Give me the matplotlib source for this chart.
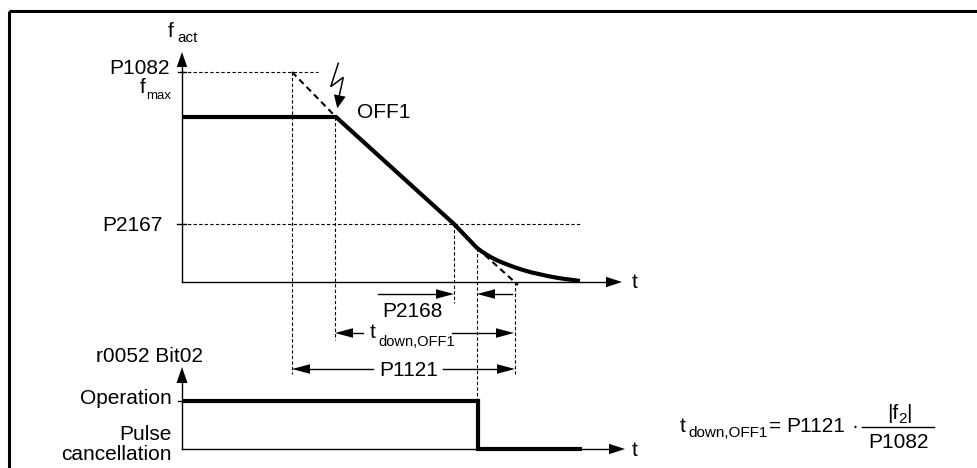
import matplotlib
matplotlib.use("Agg")
import matplotlib.pyplot as plt
import numpy as np

plt.rcParams['font.family'] = ['Liberation Sans', 'DejaVu Sans']

# ---------------- data (diagram coordinates) ----------------
# upper diagram: time axis origin / levels
t0 = 182                       # origin of time axes
f_zero = 282                   # f = 0 level
f_p1082 = 72                   # P1082 (f_max setpoint) level
f_set = 117                    # actual frequency before OFF1
f_p2167 = 224                  # P2167 threshold
t_axis_end = 622
# actual frequency trace (ramp + rounding)
f_trace_t = [182, 336, 454, 477, 483, 490, 498, 506.7, 515, 523, 531, 540, 548, 556.7, 565, 573, 580]
f_trace_f = [117, 117, 224, 248, 252.3, 256.7, 260.8, 264.3, 267.4, 270, 272.3, 274.3, 276.1, 277.7, 279, 280, 281]
# theoretical ramp (dashed)
ramp_t = [292, 336]
ramp_f = [72, 117]
ramp_ext_t = [477, 518]
ramp_ext_f = [248, 285]
# characteristic times
t_p1121_start = 292
t_off1 = 335
t_p2167 = 454
t_pulse = 477
t_ramp_end = 515
# lower diagram
b_axis = 449
b_oper = 401
b_axis_end = 625
b_trace_t = [182, 478, 478, 582]
b_trace_y = [401, 401, 449, 449]

# ---------------- figure ----------------
W, H = 977, 468
fig = plt.figure(figsize=(W / 100, H / 100), dpi=100)
ax = fig.add_axes([0, 0, 1, 1])
ax.set_xlim(0, W)
ax.set_ylim(H, 0)
ax.axis('off')

K = 'black'
dot = dict(color=K, lw=0.8, ls=(0, (3, 2)))


def head(tip, direction, length=16, half=5.5):
    tx, ty = tip
    d = np.array(direction, float)
    d /= np.hypot(*d)
    n = np.array([-d[1], d[0]])
    base = np.array([tx, ty]) - d * length
    p1 = base + n * half
    p2 = base - n * half
    ax.fill([tx, p1[0], p2[0]], [ty, p1[1], p2[1]], color=K, lw=0)


def txt(x, y, s, size=15, ha='left', va='baseline'):
    ax.text(x, y, s, fontsize=size, ha=ha, va=va, color=K)


# frame
ax.plot([8.7, W], [11.3, 11.3], color=K, lw=2.2, solid_capstyle='butt')
ax.plot([8.7, 8.7], [11.3, H], color=K, lw=2.2, solid_capstyle='butt')

# ---------- upper diagram ----------
ax.plot([t0, t0], [f_zero, 64], color=K, lw=1.0)
head((t0, 52), (0, -1), 15, 5.2)
ax.plot([t0, t_axis_end - 14], [f_zero, f_zero], color=K, lw=1.0)
head((t_axis_end, f_zero), (1, 0), 16, 5.2)
txt(632, 288, 't')

# f_act label
txt(168, 37, 'f')
txt(177.5, 41.5, 'act', 11)
# P1082 / fmax
txt(170, 74, 'P1082', ha='right')
txt(140, 93, 'f')
txt(146, 99, 'max', 9.5)
ax.plot([178, 186], [f_p1082, f_p1082], color=K, lw=1.0)
ax.plot([t0, 318], [f_p1082, f_p1082], **dot)
# P2167
txt(163, 231, 'P2167', ha='right')
ax.plot([177, 186], [f_p2167, f_p2167], color=K, lw=1.0)
ax.plot([t0, 582], [f_p2167, f_p2167], **dot)

# dotted verticals
ax.plot([t_p1121_start] * 2, [f_p1082, 374], **dot)
ax.plot([t_off1] * 2, [f_set, 340], **dot)
ax.plot([t_p2167] * 2, [f_p2167, 303], **dot)
ax.plot([t_pulse] * 2, [248, b_oper], **dot)
ax.plot([t_ramp_end] * 2, [f_zero, 374], **dot)

# dashed theoretical ramp
ax.plot(ramp_t, ramp_f, color=K, lw=1.5, ls=(0, (3, 2)))
ax.plot(ramp_ext_t, ramp_ext_f, color=K, lw=1.5, ls=(0, (3, 2)))

# actual frequency
ax.plot(f_trace_t, f_trace_f, color=K, lw=3.0, solid_joinstyle='round', solid_capstyle='butt')

# lightning + OFF1
ax.plot([338.3, 330.7, 343.3, 339.0], [63.3, 86.7, 77.3, 97.0], color=K, lw=1.1, solid_joinstyle='miter')
head((337.3, 108.3), (337.3 - 343.3, 108.3 - 77.3), 13, 6)
txt(357, 118, 'OFF1')

# P2168 dimension
ax.plot([378, 440], [294, 294], color=K, lw=1.0)
head((t_p2167, 294), (1, 0), 18, 4.8)
ax.plot([492, 512], [294, 294], color=K, lw=1.0)
head((t_pulse, 294), (-1, 0), 18, 4.8)
txt(412, 317, 'P2168', ha='center')

# t_down,OFF1 dimension
ax.plot([348, 363], [333, 333], color=K, lw=1.0)
head((t_off1, 333), (-1, 0), 18, 4.8)
ax.plot([452, 500], [333, 333], color=K, lw=1.0)
head((t_ramp_end - 1, 333), (1, 0), 18, 4.8)
txt(370, 338, 't')
txt(378.5, 346, 'down,OFF1', 10.5)

# P1121 dimension
ax.plot([305, 373], [369, 369], color=K, lw=1.0)
head((t_p1121_start, 369), (-1, 0), 18, 4.8)
ax.plot([443, 500], [369, 369], color=K, lw=1.0)
head((t_ramp_end, 369), (1, 0), 18, 4.8)
txt(409, 376, 'P1121', ha='center')

# ---------- lower diagram ----------
ax.plot([t0, t0], [b_axis, 378], color=K, lw=1.0)
head((t0, 367), (0, -1), 16, 5.5)
ax.plot([t0, b_axis_end - 14], [b_axis, b_axis], color=K, lw=1.0)
head((b_axis_end, b_axis), (1, 0), 16, 5.2)
txt(632, 456, 't')
ax.plot([178, 186], [b_oper, b_oper], color=K, lw=1.0)
ax.plot(b_trace_t, b_trace_y, color=K, lw=3.0, solid_joinstyle='miter', solid_capstyle='butt')

txt(203, 362, 'r0052 Bit02', ha='right')
txt(172, 404, 'Operation', ha='right')
txt(172, 440, 'Pulse', ha='right')
txt(172, 460, 'cancellation', ha='right')

# ---------- formula ----------
txt(680, 432, 't')
txt(688, 437, 'down,OFF1', 11)
txt(769, 432, '=')
txt(786, 432, 'P1121')
txt(851, 432, '·')
ax.plot([862, 934], [427, 427], color=K, lw=1.0)
txt(887, 419, '|f')
txt(898, 423, '2', 11)
txt(906, 419, '|')
txt(899, 448, 'P1082', ha='center')

fig.savefig('out.png', dpi=100)
